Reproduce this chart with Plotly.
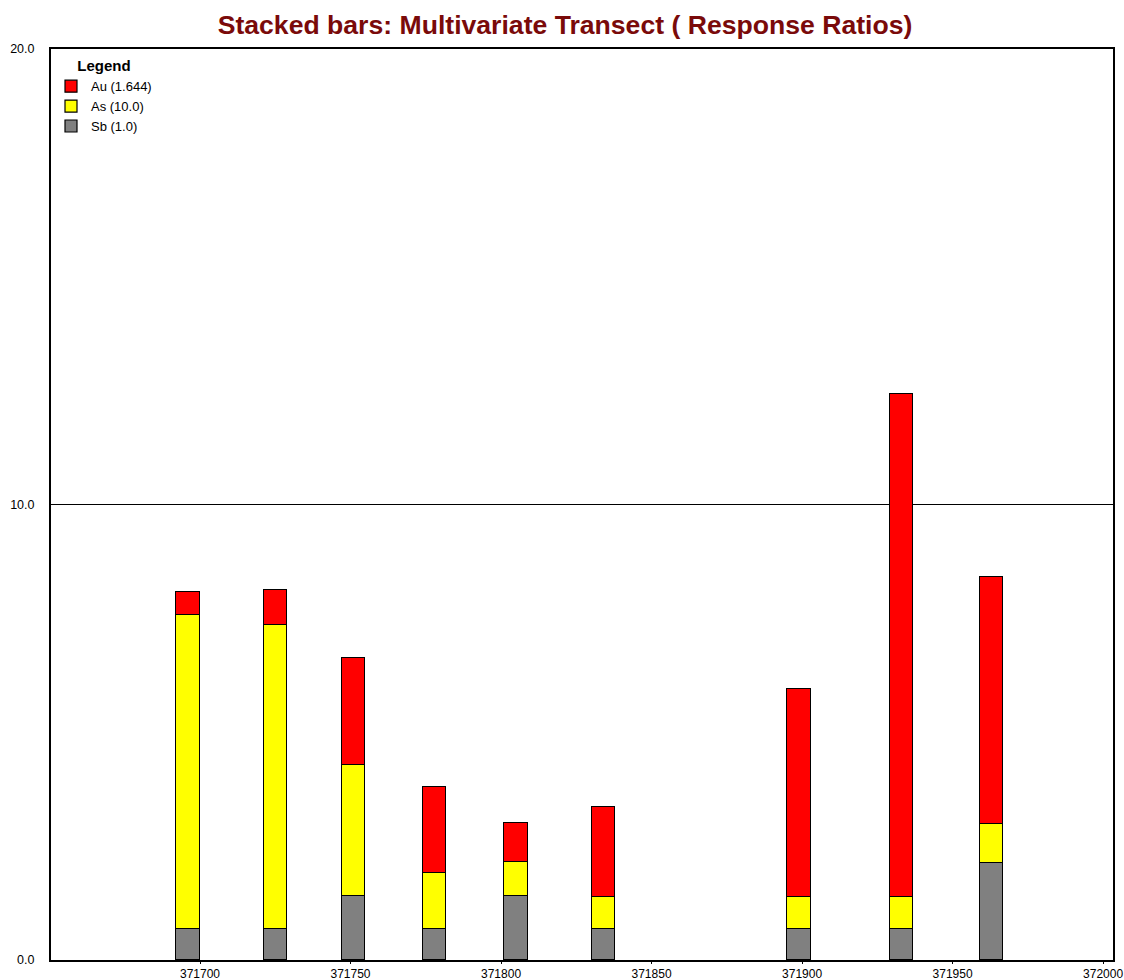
import plotly.graph_objects as go

# Sample positions along the transect (easting)
eastings = [371696, 371725, 371751, 371778, 371805, 371834, 371899, 371933, 371963]

# Response ratios per element, stacked bottom to top: Sb, As, Au
sb_values = [0.69, 0.69, 1.40, 0.69, 1.40, 0.69, 0.69, 0.69, 2.14]
as_values = [6.89, 6.67, 2.89, 1.22, 0.76, 0.70, 0.70, 0.70, 0.85]
au_values = [0.49, 0.77, 2.35, 1.89, 0.84, 1.96, 4.57, 11.03, 5.41]

series = [
    ("Sb (1.0)", sb_values, "#808080"),
    ("As (10.0)", as_values, "#FFFF00"),
    ("Au (1.644)", au_values, "#FF0000"),
]

x_ticks = [371700, 371750, 371800, 371850, 371900, 371950, 372000]
y_ticks = [0, 10, 20]
y_tick_text = ["0.0", "10.0", "20.0"]

BAR_WIDTH = 7.75
FONT = "Liberation Sans, Arial, sans-serif"
NARROW = "Liberation Sans Narrow, Arial Narrow, Liberation Sans, sans-serif"

fig = go.Figure()
for name, vals, color in series:
    fig.add_trace(go.Bar(
        x=eastings,
        y=vals,
        name=name,
        width=BAR_WIDTH,
        marker=dict(color=color, line=dict(color="#000000", width=1.2)),
        hoverinfo="x+y+name",
    ))

fig.update_layout(
    width=1124,
    height=980,
    barmode="stack",
    plot_bgcolor="#FFFFFF",
    paper_bgcolor="#FFFFFF",
    margin=dict(l=51, r=11, t=49, b=20, pad=0, autoexpand=False),
    title=dict(
        text="<b>Stacked bars: Multivariate Transect ( Response Ratios)</b>",
        font=dict(family=FONT, size=26.6, color="#7A0A0A"),
        x=565 / 1124, xanchor="center",
        y=0.975, yanchor="middle",
        xref="container",
    ),
    showlegend=True,
    legend=dict(
        title=dict(text="<b>Legend</b>", side="top center",
                   font=dict(family=FONT, size=15, color="#000000")),
        x=0.0, xanchor="left",
        y=0.997, yanchor="top",
        bgcolor="rgba(0,0,0,0)",
        borderwidth=0,
        font=dict(family=FONT, size=13, color="#000000"),
        itemwidth=30,
        tracegroupgap=0,
    ),
    bargap=0,
)

fig.update_xaxes(
    range=[371650.5, 372003.3],
    automargin=False,
    tickmode="array",
    tickvals=x_ticks,
    ticktext=[str(v) for v in x_ticks],
    ticks="outside",
    ticklen=2,
    tickwidth=1,
    tickcolor="#000000",
    tickfont=dict(family=NARROW, size=12, color="#000000"),
    showgrid=False,
    zeroline=False,
    showline=True,
    linecolor="#000000",
    linewidth=2,
    mirror=True,
)

fig.update_yaxes(
    range=[0, 20],
    automargin=False,
    tickmode="array",
    tickvals=y_ticks,
    ticktext=y_tick_text,
    ticks="",
    ticklabelstandoff=12,
    tickfont=dict(family=NARROW, size=12.5, color="#000000"),
    showgrid=True,
    gridcolor="#000000",
    gridwidth=1,
    zeroline=False,
    showline=True,
    linecolor="#000000",
    linewidth=2,
    mirror=True,
)

fig.write_html("out.html")
